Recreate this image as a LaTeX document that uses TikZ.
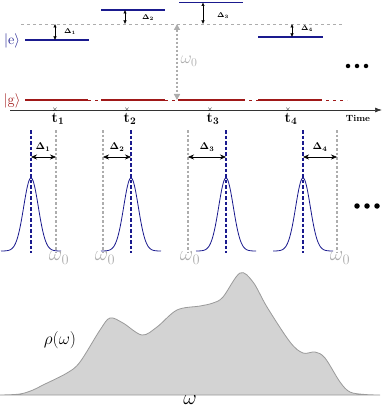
\documentclass[tikz,border=0pt]{standalone}
\usepackage{amsmath,bm}
\usetikzlibrary{arrows.meta}
\definecolor{eblue}{HTML}{1A1A8E}
\definecolor{gred}{HTML}{A01818}
\definecolor{lgray}{HTML}{ADADAD}
\definecolor{fillg}{HTML}{D3D3D3}
\definecolor{edgeg}{HTML}{9A9A9A}
\tikzset{
  elevel/.style={eblue, line width=1.8pt},
  glevel/.style={gred, line width=1.8pt},
  gdash/.style={gred, line width=0.8pt, dash pattern=on 3pt off 4pt},
  refline/.style={lgray, line width=0.6pt, dash pattern=on 3pt off 3pt},
  detarrow/.style={{Latex[length=3.5pt,width=3.5pt]}-{Latex[length=3.5pt,width=3.5pt]}, line width=0.5pt},
  spanarrow/.style={{Stealth[length=6pt,width=5pt]}-{Stealth[length=6pt,width=5pt]}, line width=0.6pt},
  centerline/.style={eblue, line width=1.6pt, dash pattern=on 3.5pt off 2pt},
  omegaline/.style={lgray, line width=2pt, dash pattern=on 2.5pt off 2pt},
  pulse/.style={eblue, line width=0.8pt},
  toplabel/.style={font=\scriptsize, inner sep=1pt},
  midlabel/.style={font=\normalsize, inner sep=1pt},
  wlabel/.style={lgray, inner sep=0pt},
  tlabel/.style={font=\Large, inner sep=0pt},
  dot/.style={circle, fill=black, inner sep=0pt, minimum size=4.5pt},
}
\begin{document}
\begin{tikzpicture}[x=1pt,y=-1pt]
\useasboundingbox (0,0) rectangle (382,409);
% ---------- top: energy levels ----------
\draw[refline] (21,24) -- (343,24);
\node[eblue, font=\Large, inner sep=0pt] (ket e) at (12,41) {$|\mathrm{e}\rangle$};
\node[gred, font=\Large, inner sep=0pt] (ket g) at (12,101) {$|\mathrm{g}\rangle$};
\draw[elevel] (25,40) -- (89,40);
\draw[elevel] (101,10) -- (165,10);
\draw[elevel] (179,2.5) -- (243,2.5);
\draw[elevel] (258,37) -- (323,37);
% ground level
\draw[gdash] (25,100) -- (347,100);
\draw[glevel] (25,100) -- (88,100);
\draw[glevel] (101,100) -- (165,100);
\draw[glevel] (178,100) -- (245,100);
\draw[glevel] (258,100) -- (322,100);
% detuning arrows
\coordinate (d1a) at (55,24); \coordinate (d1b) at (55,40);
\coordinate (d2a) at (125,10); \coordinate (d2b) at (125,24);
\coordinate (d3a) at (203,2.5); \coordinate (d3b) at (203,24);
\coordinate (d4a) at (292,24); \coordinate (d4b) at (292,37);
\draw[detarrow] (d1a) -- (d1b);
\draw[detarrow] (d2a) -- (d2b);
\draw[detarrow] (d3a) -- (d3b);
\draw[detarrow] (d4a) -- (d4b);
\node[toplabel] (l1) at (70,32) {$\bm{\Delta}_{\mathbf 1}$};
\node[toplabel] (l2) at (148,18) {$\bm{\Delta}_{\mathbf 2}$};
\node[toplabel] (l3) at (223,16) {$\bm{\Delta}_{\mathbf 3}$};
\node[toplabel] (l4) at (307,29) {$\bm{\Delta}_{\mathbf 4}$};
% omega0 arrow
\coordinate (w0a) at (177,24); \coordinate (w0b) at (177,100);
\draw[lgray, line width=1.6pt, dash pattern=on 2pt off 2pt, {Triangle[length=6pt,width=6pt]}-{Triangle[length=6pt,width=6pt]}] (w0a) -- (w0b);
\node[wlabel, font=\LARGE] (w0) at (189,61) {$\omega_0$};
% dots
\node[dot] (dt1) at (348,66) {};
\node[dot] (dt2) at (357,66) {};
\node[dot] (dt3) at (366,66) {};
% time axis
\coordinate (ax0) at (10,110); \coordinate (ax1) at (382,110);
\draw[black!80, line width=0.7pt, -{Latex[length=7pt,width=5pt]}] (ax0) -- (ax1);
\node[font=\small\bfseries, inner sep=0pt] (time) at (358,118) {Time};
\foreach \i/\x in {1/55,2/127,3/210,4/288}{
  \node[font=\scriptsize, inner sep=0pt] (x\i) at (\x,110) {$\times$};
  \node[tlabel] (t\i) at (\x+3,119) {$\mathbf{t}_{\mathbf{\i}}$};
}
% ---------- middle: pulses ----------
\foreach \i/\c/\w/\lx/\wx in {1/31/56/43/59, 2/131/103/117/105, 3/226/188/207/190, 4/303/337/320/340}{
  \draw[omegaline] (\w,130) -- (\w,253);
  \draw[centerline] (\c,130) -- (\c,253);
  \coordinate (pa\i) at (\c,157); \coordinate (pb\i) at (\w,157);
  \draw[spanarrow] (pa\i) -- (pb\i);
  \node[midlabel] (pl\i) at (\lx,147) {$\bm{\Delta}_{\mathbf \i}$};
  \draw[pulse] plot[domain=-30:30, samples=80] ({\c+\x}, {251-73*exp(-(\x)*(\x)/(2*7.3*7.3))});
  \node[wlabel, font=\huge] (pw\i) at (\wx,258) {$\omega_0$};
}
\node[dot, minimum size=5.5pt] (md1) at (357,206) {};
\node[dot, minimum size=5.5pt] (md2) at (367,206) {};
\node[dot, minimum size=5.5pt] (md3) at (377,206) {};
% ---------- bottom: density ----------
\draw[edgeg, fill=fillg, line width=0.8pt] plot[smooth, tension=0.55] coordinates {
 (0,395) (20,394) (33,390) (43,385) (67,373) (80,362) (100,330) (110,318) (123,323)
 (142,335) (157,327) (177,310) (200,306) (213,303) (223,297) (240,273) (253,282)
 (267,307) (290,342) (303,353) (315,352) (325,358) (340,382) (350,392) (365,394.5) (380,395)} -- cycle;
\node[font=\LARGE, inner sep=0pt] (rho) at (60,340) {$\rho(\omega)$};
\node[font=\huge, inner sep=0pt] (om) at (190,400) {$\omega$};
\end{tikzpicture}
\end{document}
